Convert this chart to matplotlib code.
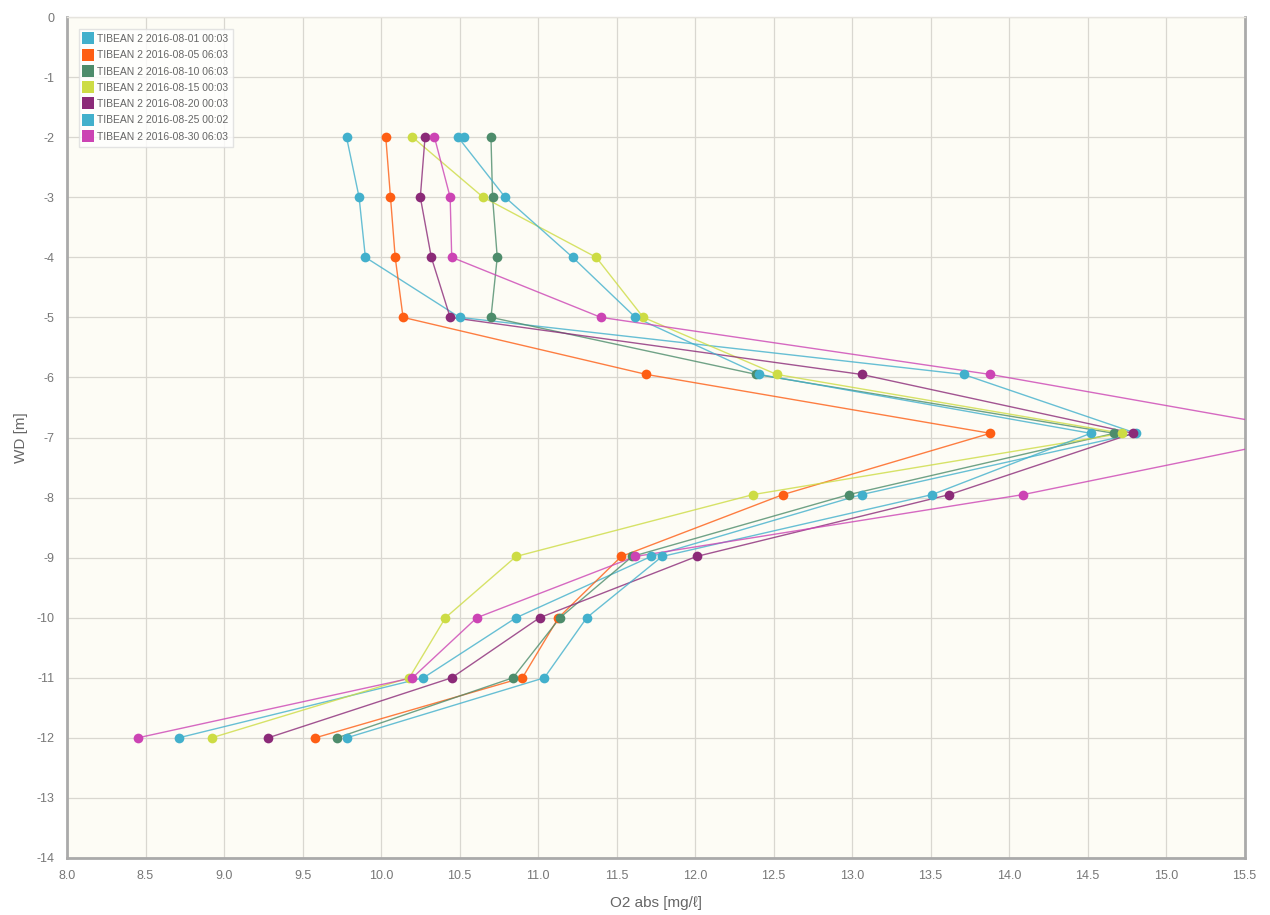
import matplotlib
matplotlib.use("Agg")
import matplotlib.pyplot as plt
from matplotlib.lines import Line2D

plt.rcParams['font.family'] = ['Liberation Sans Narrow', 'Liberation Sans', 'DejaVu Sans']
plt.rcParams['axes.unicode_minus'] = False

# depths [m] of each profile point
depth = [-2, -3, -4, -5, -5.95, -6.93, -7.95, -8.98, -10, -11, -12]

labels = [
    "TIBEAN 2 2016-08-01 00:03",
    "TIBEAN 2 2016-08-05 06:03",
    "TIBEAN 2 2016-08-10 06:03",
    "TIBEAN 2 2016-08-15 00:03",
    "TIBEAN 2 2016-08-20 00:03",
    "TIBEAN 2 2016-08-25 00:02",
    "TIBEAN 2 2016-08-30 06:03",
]
colors = ["#42b0cc", "#fe5e14", "#4d8c6b", "#cddc44", "#8b2a78", "#42b0cc", "#cc44b4"]

o2_0801 = [9.78, 9.86, 9.90, 10.50, 13.71, 14.81, 13.06, 11.72, 10.86, 10.27, 8.71]
o2_0805 = [10.03, 10.06, 10.09, 10.14, 11.69, 13.88, 12.56, 11.53, 11.13, 10.90, 9.58]
o2_0810 = [10.70, 10.71, 10.74, 10.70, 12.39, 14.67, 12.98, 11.60, 11.14, 10.84, 9.72]
o2_0815 = [10.20, 10.65, 11.37, 11.67, 12.52, 14.72, 12.37, 10.86, 10.41, 10.18, 8.92]
o2_0820 = [10.28, 10.25, 10.32, 10.44, 13.06, 14.79, 13.62, 12.01, 11.01, 10.45, 9.28]
o2_0825 = [10.49, 10.79, 11.22, 11.62, 12.41, 14.52, 13.51, 11.79, 11.31, 11.04, 9.78]
o2_0830 = [10.34, 10.44, 10.45, 11.40, 13.88, 16.00, 14.09, 11.62, 10.61, 10.20, 8.45]

# 08-25 has two readings close together at -2 m
extra_0825 = (10.53, -2)

series = [o2_0801, o2_0805, o2_0810, o2_0815, o2_0820, o2_0825, o2_0830]

fig = plt.figure(figsize=(12.7, 9.15), dpi=100)
ax = fig.add_axes([0.0528, 0.0623, 0.9272, 0.9191])
ax.set_facecolor("#fdfcf5")

for i, vals in enumerate(series):
    xs = list(vals)
    ys = list(depth)
    if i == 5:
        xs = [extra_0825[0]] + xs
        ys = [extra_0825[1]] + ys
    ax.plot(xs, ys, color=colors[i], lw=1.0, alpha=0.8, zorder=2 + i)
    ax.plot(xs, ys, ls="none", marker="o", ms=7, color=colors[i],
            markeredgewidth=0, zorder=10 + i)

ax.set_xlim(8.0, 15.5)
ax.set_ylim(-14, 0)
ax.set_xticks([8.0 + 0.5 * k for k in range(16)])
ax.set_yticks(list(range(-14, 1)))
ax.set_xticklabels(["%.1f" % (8.0 + 0.5 * k) for k in range(16)])
ax.grid(True, color="#d9d7d0", lw=0.9)
ax.set_axisbelow(True)
ax.tick_params(length=0, labelsize=9, colors="#777777", pad=9)

for s in ["left", "bottom", "right"]:
    ax.spines[s].set_color("#aaaaaa")
    ax.spines[s].set_linewidth(2)
ax.spines["top"].set_color("#e6e4de")
ax.spines["top"].set_linewidth(1)

ax.set_xlabel("O2 abs [mg/ℓ]", fontsize=11, color="#666666", labelpad=10)
ax.set_ylabel("WD [m]", fontsize=11, color="#666666", labelpad=6)

handles = [Line2D([0], [0], ls="none", marker="s", ms=8, color=c, markeredgewidth=0)
           for c in colors]
leg = ax.legend(handles, labels, loc="upper left", bbox_to_anchor=(0.010, 0.986),
                fontsize=7.5, frameon=True, handlelength=0.8, handletextpad=0.4,
                labelspacing=0.6, borderpad=0.5, borderaxespad=0)
leg.get_frame().set_facecolor("#ffffff")
leg.get_frame().set_alpha(0.8)
leg.get_frame().set_edgecolor("#dddddd")
leg.get_frame().set_boxstyle("square", pad=0)
for t in leg.get_texts():
    t.set_color("#666666")

fig.savefig("out.png", dpi=100)
